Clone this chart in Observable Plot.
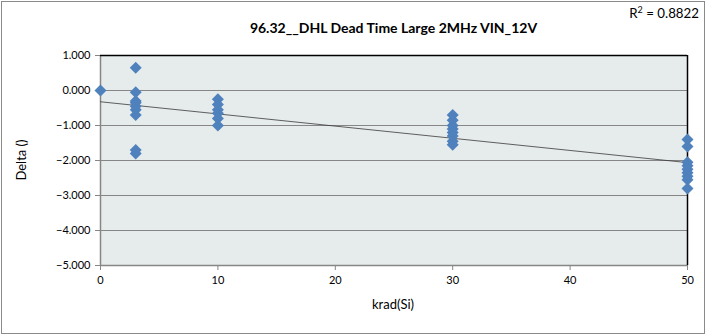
<!DOCTYPE html>
<html>
<head>
<meta charset="utf-8">
<script src="https://cdn.jsdelivr.net/npm/d3@7"></script>
<script src="https://cdn.jsdelivr.net/npm/@observablehq/plot@0.6"></script>
<style>
  body { margin: 0; background: #fff; }
  #wrap { position: relative; width: 706px; height: 335px; font-family: Lato, "Open Sans", sans-serif; color: #000; }
  #border { position: absolute; left: 1px; top: 1px; width: 702px; height: 331px; border: 1px solid #8a8a8a; pointer-events: none; }
  #title { position: absolute; left: 100px; width: 587px; top: 19px; text-align: center; font-weight: bold; font-size: 14px; }
  #r2 { position: absolute; right: 7px; top: 4px; font-size: 13.3px; }
  #ylab { position: absolute; left: 21px; top: 160px; transform: translate(-50%, -50%) rotate(-90deg); font-size: 13px; white-space: nowrap; }
  #xlab { position: absolute; left: 393px; top: 304px; transform: translate(-50%, -50%); font-size: 13px; }
  #chart { position: absolute; left: 0; top: 0; }
</style>
</head>
<body>
<div id="wrap">
  <div id="chart"></div>
  <div id="border"></div>
  <div id="title"></div>
  <div id="r2"></div>
  <div id="ylab"></div>
  <div id="xlab"></div>
</div>
<script>
// Data
const titleText = "96.32__DHL Dead Time Large 2MHz VIN_12V";
const r2Text = "R² = 0.8822";
const xLabel = "krad(Si)";
const yLabel = "Delta ()";
const xTicks = [0, 10, 20, 30, 40, 50];
const yTicks = [1, 0, -1, -2, -3, -4, -5];

const krad = [
  0,
  3, 3, 3, 3, 3, 3, 3, 3, 3,
  10, 10, 10, 10, 10, 10,
  30, 30, 30, 30, 30, 30, 30, 30,
  50, 50, 50, 50, 50, 50, 50, 50, 50
];
const delta = [
  0.0,
  0.65, -0.05, -0.3, -0.35, -0.45, -0.55, -0.7, -1.7, -1.8,
  -0.25, -0.4, -0.55, -0.65, -0.8, -1.0,
  -0.7, -0.85, -1.0, -1.1, -1.2, -1.3, -1.45, -1.55,
  -1.4, -1.6, -2.05, -2.15, -2.25, -2.35, -2.45, -2.55, -2.8
];

const data = krad.map((k, i) => ({krad: k, delta: delta[i]}));

document.getElementById("title").textContent = titleText;
document.getElementById("r2").innerHTML = r2Text.replace("²", "<sup style='font-size:9px;vertical-align:5px'>2</sup>");
document.getElementById("ylab").textContent = yLabel;
document.getElementById("xlab").textContent = xLabel;

const grid = "#868686";
const chart = Plot.plot({
  width: 706,
  height: 335,
  marginLeft: 100,
  marginRight: 19,
  marginTop: 55,
  marginBottom: 70,
  style: {fontFamily: "Lato, 'Open Sans', sans-serif", fontSize: "11px", color: "#000", background: "transparent", overflow: "visible"},
  x: {domain: [0, 50], label: null},
  y: {domain: [-5, 1], label: null},
  marks: [
    Plot.frame({fill: "#E6EBEB", stroke: null}),
    Plot.gridY(yTicks.filter(d => d !== 1 && d !== -5), {stroke: grid, strokeOpacity: 1, strokeWidth: 1}),
    Plot.ruleY([-5], {stroke: grid, strokeWidth: 1.5}),
    Plot.ruleX([0], {stroke: grid, strokeWidth: 1.5}),
    Plot.ruleY([1], {stroke: "#000", strokeWidth: 1.5}),
    Plot.ruleX([50], {stroke: "#000", strokeWidth: 1.5}),
    Plot.axisY(yTicks, {tickSize: 5, tickPadding: 5, stroke: grid, tickFormat: d3.format(".3f"), fill: "#000"}),
    Plot.axisX(xTicks, {tickSize: 5, tickPadding: 6, stroke: grid, tickFormat: d => String(d), fill: "#000"}),
    Plot.linearRegressionY(data, {x: "krad", y: "delta", ci: 0, stroke: "#3a3a3a", strokeWidth: 0.8}),
    Plot.dot(data, {x: "krad", y: "delta", symbol: "diamond2", r: 5.4, fill: "#4F81BD", stroke: null})
  ]
});
document.getElementById("chart").appendChild(chart);
</script>
</body>
</html>
